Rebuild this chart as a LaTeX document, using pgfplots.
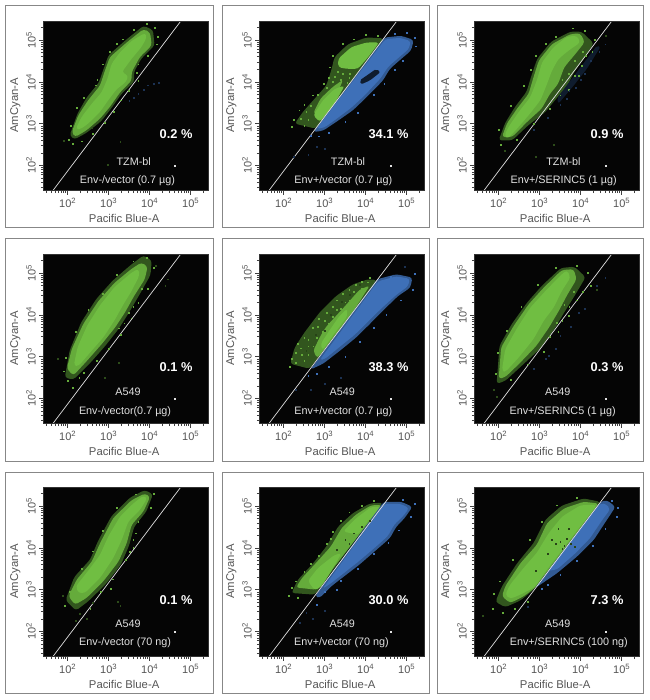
\documentclass[border=0pt]{standalone}
\usepackage{pgfplots}
\usepackage{fontspec}
\setmainfont{Liberation Sans}
\pgfplotsset{compat=1.18}
\definecolor{grn}{RGB}{112,190,66}
\definecolor{blu}{RGB}{62,112,184}
\definecolor{txt}{RGB}{85,85,85}
\definecolor{frm}{RGB}{135,135,135}
\definecolor{lbl}{RGB}{225,225,225}
\tikzset{
 gcore/.style={fill=grn,draw=none,rounded corners=3pt},
 gmid/.style={fill=grn!90!black,draw=none,rounded corners=3pt},
 gout/.style={fill=grn!45!black,draw=none,rounded corners=3pt},
 bcore/.style={fill=blu,draw=none,rounded corners=3pt},
 bmid/.style={fill=blu!80!black,draw=none,rounded corners=3pt},
 bout/.style={fill=blu!25!black,draw=none,rounded corners=2pt},
}
\newcommand\poly[2]{\addplot[#1] coordinates {#2} -- cycle;}
\newcommand\gs[1]{\addplot[only marks,mark=square*,mark size=0.42pt,color=grn!90!black,mark options={draw=none}] coordinates {#1};}
\newcommand\gd[1]{\addplot[only marks,mark=square*,mark size=0.42pt,color=grn!40!black,mark options={draw=none}] coordinates {#1};}
\newcommand\bs[1]{\addplot[only marks,mark=square*,mark size=0.42pt,color=blu,mark options={draw=none}] coordinates {#1};}
\newcommand\bd[1]{\addplot[only marks,mark=square*,mark size=0.42pt,color=blu!45!black,mark options={draw=none}] coordinates {#1};}
\newcommand\ks[1]{\addplot[only marks,mark=square*,mark size=0.42pt,color=grn!35!black,mark options={draw=none}] coordinates {#1};}
\def\minorx{1.48,1.6,1.7,1.78,1.85,1.9,1.95,2.3,2.48,2.6,2.7,2.78,2.85,2.9,2.95,3.3,3.48,3.6,3.7,3.78,3.85,3.9,3.95,4.3,4.48,4.6,4.7,4.78,4.85,4.9,4.95,5.3}
\pgfplotsset{flow/.style={
 scale only axis,width=165pt,height=169pt,
 xmin=1.406,xmax=5.43,ymin=1.397,ymax=5.437,
 axis background/.style={fill=black!98!white},
 axis line style={draw=black!80},
 tick align=outside,xtick pos=bottom,ytick pos=left,
 major tick length=4pt,minor tick length=2.5pt,
 tick style={color=black!75,line width=0.5pt},
 minor tick style={color=black!75,line width=0.4pt},
 xtick={2,3,4,5},ytick={2,3,4,5},
 minor xtick=\minorx,minor ytick=\minorx,
 xticklabels={10\textsuperscript{2},10\textsuperscript{3},10\textsuperscript{4},10\textsuperscript{5}},
 yticklabels={10\textsuperscript{2},10\textsuperscript{3},10\textsuperscript{4},10\textsuperscript{5}},
 tick label style={font=\fontsize{11}{11}\selectfont,text=txt},
 yticklabel style={rotate=90,anchor=south},
 xlabel={Pacific Blue-A},ylabel={AmCyan-A},
 label style={font=\fontsize{11.3}{12}\selectfont,text=txt},
 xlabel style={at={(axis description cs:0.49,-0.166)},anchor=center},
 ylabel style={at={(axis description cs:-0.17,0.505)},anchor=center,rotate=0},
 axis on top,
}}
% #1 left, #2 bottom, #3 cell node x,y, #4 cell, #5 treatment node x,y, #6 treatment, #7 percent, #8 plots
\newcommand\flow[8]{%
\begin{axis}[flow,at={(#1pt,#2pt)},anchor=south west]
#8
\addplot[only marks,mark=square*,mark size=0.5pt,color=lbl,mark options={draw=none}] coordinates {(4.62,1.99)};
\addplot[color=lbl,line width=0.7pt] coordinates {(1.64,1.40)(4.75,5.44)};
\node[anchor=east,text=white,font=\fontsize{12.8}{13}\bfseries\selectfont] at (axis cs:5.13,2.76) {#7};
\node[text=lbl,font=\fontsize{10.8}{11}\selectfont] at (axis cs:#3) {#4};
\node[text=lbl,font=\fontsize{10.8}{11}\selectfont] at (axis cs:#5) {#6};
\end{axis}}
\begin{document}
\begin{tikzpicture}[x=1pt,y=1pt]
\path[use as bounding box,fill=white] (0,0) rectangle (649,700);
\foreach \a/\b in {5.5/213,222/429,437/643}{
 \draw[frm,line width=0.9pt] (\a,472.3) rectangle (\b,694.3);
 \draw[frm,line width=0.9pt] (\a,239) rectangle (\b,462);
 \draw[frm,line width=0.9pt] (\a,7) rectangle (\b,228);
}
% ---- row 1
\flow{43.3}{509.3}{3.61,2.09}{TZM-bl}{3.46,1.64}{Env-/vector (0.7 µg)}{0.2 \%}{
\poly{gout}{(2.05,2.72)(2.24,3.24)(2.46,3.62)(2.76,3.98)(2.88,4.32)(3.00,4.64)(3.42,5.0)(3.85,5.34)(4.08,5.24)(4.12,4.87)(3.80,4.56)(3.62,4.24)(3.62,4.0)(3.32,3.72)(3.06,3.36)(2.82,3.06)(2.46,2.78)(2.16,2.62)}
\poly{gmid}{(2.10,2.80)(2.26,3.20)(2.50,3.56)(2.79,3.91)(2.91,4.27)(3.03,4.59)(3.44,4.94)(3.85,5.26)(4.01,5.18)(4.05,4.87)(3.76,4.59)(3.56,4.23)(3.56,4.03)(3.28,3.75)(3.03,3.40)(2.79,3.12)(2.46,2.84)(2.18,2.68)}
\poly{gcore}{(2.20,2.88)(2.34,3.16)(2.59,3.48)(2.83,3.75)(2.97,4.07)(3.07,4.43)(3.28,4.71)(3.56,4.98)(3.89,5.17)(3.93,5.06)(3.80,4.83)(3.56,4.55)(3.32,4.23)(3.48,4.15)(3.42,3.99)(3.20,3.83)(2.99,3.56)(2.79,3.28)(2.50,3.0)(2.30,2.86)}
\gs{(2.02,2.62)(2.08,2.95)(2.22,3.38)(2.40,3.62)(2.68,3.92)(2.72,4.05)(2.85,4.42)(3.02,4.72)(3.20,4.92)(3.35,5.02)(3.62,5.25)(3.92,5.38)(4.12,5.3)(4.2,5.08)(4.18,4.9)(3.95,4.62)(3.72,4.42)(3.68,4.22)(3.72,4.02)(3.48,3.78)(3.3,3.56)(3.12,3.28)(2.9,3.02)(2.62,2.76)(2.35,2.58)(2.12,2.52)}
\gd{(2.98,2.02)(3.28,2.56)(2.6,2.9)(1.9,2.6)}
\bd{(3.5,3.55)(3.72,3.72)(3.95,3.92)(4.1,3.95)(4.22,3.98)(3.62,3.62)(3.85,3.82)}
}
\flow{259.3}{509.3}{3.57,2.09}{TZM-bl}{3.455,1.64}{Env+/vector (0.7 µg)}{34.1 \%}{
\poly{gout}{(2.78,2.88)(2.27,3.0)(2.47,3.28)(2.76,3.60)(3.04,3.91)(3.16,4.27)(3.24,4.59)(3.57,4.90)(4.02,5.06)(4.44,5.04)}
\poly{gmid}{(2.95,3.2)(2.72,3.25)(2.9,3.6)(3.2,3.88)(3.45,4.05)(3.3,3.7)}
\poly{gcore}{(3.33,4.55)(3.65,4.83)(4.02,4.94)(4.33,4.94)(4.06,4.59)(3.81,4.31)(3.53,4.31)(3.33,4.35)}
\poly{gcore}{(2.88,3.04)(2.72,3.20)(2.96,3.56)(3.24,3.83)(3.49,3.91)(3.24,3.48)}
\poly{bmid}{(2.72,2.80)(4.46,5.06)(4.87,5.10)(5.17,5.0)(5.11,4.75)(4.87,4.55)(4.59,4.31)(4.42,4.03)(4.02,3.63)(3.69,3.32)(3.28,3.04)(2.96,2.83)}
\poly{bcore}{(2.80,2.88)(4.48,5.02)(4.85,5.05)(5.1,4.97)(5.05,4.78)(4.83,4.6)(4.55,4.36)(4.36,4.08)(3.98,3.68)(3.65,3.38)(3.27,3.1)(2.98,2.9)}
\poly{bout}{(3.85,4.03)(4.26,4.31)(4.36,4.23)(4.10,4.03)(3.89,3.94)}
\gs{(2.2,2.92)(2.25,3.1)(2.38,3.32)(2.5,3.45)(2.7,3.68)(2.98,3.96)(3.1,4.1)(3.12,4.35)(3.2,4.62)(3.45,4.92)(3.7,5.02)(4.0,5.12)(4.3,5.1)(3.45,4.2)(3.6,4.1)(2.6,3.1)(2.5,2.95)(3.55,3.98)(3.4,4.05)(3.25,4.12)(3.32,4.25)(3.62,4.2)(2.42,3.12)(2.55,3.28)(2.65,3.42)(2.82,3.7)(3.05,3.85)(3.2,4.0)}
\bs{(5.2,5.05)(5.22,4.85)(5.0,5.18)(4.7,5.15)(4.9,4.5)(4.7,4.28)(4.45,3.95)(4.2,3.7)(3.8,3.26)(3.5,3.05)(3.1,2.78)(2.85,2.7)(2.65,2.72)}
\bd{(2.25,2.2)(2.6,2.25)(2.8,2.45)(3.0,2.4)}
}
\flow{474.3}{509.3}{3.58,2.09}{TZM-bl}{3.585,1.64}{Env+/SERINC5 (1 µg)}{0.9 \%}{
\poly{gout}{(2.0,2.6)(2.16,3.02)(2.4,3.4)(2.68,3.76)(2.8,4.15)(2.94,4.55)(3.28,4.96)(3.75,5.2)(4.02,5.2)(4.32,4.92)(4.05,4.52)(3.85,4.25)(3.66,3.88)(3.44,3.64)(3.14,3.28)(2.72,2.96)(2.33,2.6)}
\poly{gmid}{(2.08,2.68)(2.20,3.0)(2.45,3.36)(2.73,3.71)(2.85,4.11)(2.98,4.51)(3.30,4.90)(3.75,5.14)(3.99,5.16)(4.10,4.95)(3.9,4.7)(3.6,4.35)(3.45,3.95)(3.25,3.71)(3.05,3.36)(2.69,3.04)(2.33,2.68)}
\poly{gcore}{(2.14,2.72)(2.24,2.92)(2.49,3.28)(2.77,3.63)(2.93,4.03)(3.06,4.47)(3.34,4.83)(3.67,5.08)(3.91,5.10)(3.99,4.94)(3.71,4.75)(3.46,4.55)(3.30,4.27)(3.18,3.95)(3.02,3.56)(2.73,3.20)(2.45,2.88)(2.22,2.64)}
\poly{bout}{(3.42,3.60)(3.75,4.03)(4.40,4.87)(4.48,4.83)(4.15,4.31)(3.83,3.91)(3.46,3.48)}
\gs{(2.05,2.5)(2.0,2.85)(2.3,3.42)(2.62,3.9)(2.78,4.28)(2.9,4.62)(3.15,4.92)(3.4,5.08)(3.8,5.28)(4.1,5.22)(4.35,5.0)(4.28,4.72)(4.02,4.38)(3.95,4.15)(3.7,3.82)(3.5,3.68)(3.25,3.35)(2.85,3.0)(2.45,2.62)(4.05,4.72)(3.85,4.5)(3.7,4.2)(3.55,4.05)(3.85,4.15)(4.12,4.62)}
\gd{(2.15,2.35)(4.62,5.1)(3.35,2.5)(2.9,2.2)}
\bd{(3.5,3.45)(3.72,3.78)(3.88,3.85)(4.1,4.2)(4.25,4.5)(4.45,4.72)(4.6,4.9)(3.2,3.15)(2.85,2.85)(3.65,3.6)(4.0,4.05)}
}
% ---- row 2
\flow{43.3}{276.3}{3.47,2.15}{A549}{3.40,1.68}{Env-/vector(0.7 µg)}{0.1 \%}{
\poly{gout}{(1.93,2.5)(2.05,3.15)(2.33,3.82)(2.7,4.38)(3.1,4.82)(3.55,5.2)(3.85,5.42)(4.05,5.3)(4.02,4.95)(3.75,4.48)(3.5,4.06)(3.24,3.66)(2.92,3.26)(2.55,2.85)(2.14,2.45)}
\poly{gmid}{(1.98,2.71)(2.10,3.18)(2.38,3.78)(2.75,4.33)(3.15,4.77)(3.56,5.10)(3.80,5.25)(3.95,5.15)(3.88,4.85)(3.62,4.45)(3.40,4.06)(3.16,3.70)(2.83,3.30)(2.47,2.90)(2.14,2.55)}
\poly{gcore}{(2.15,2.79)(2.24,3.22)(2.48,3.75)(2.79,4.23)(3.15,4.67)(3.56,5.01)(3.73,5.10)(3.75,4.94)(3.56,4.57)(3.36,4.25)(3.15,3.88)(2.87,3.46)(2.54,3.09)(2.26,2.77)}
\gs{(1.9,2.65)(1.95,2.98)(2.0,2.42)(2.12,2.25)(2.2,3.6)(2.5,4.12)(2.85,4.5)(3.2,4.95)(3.6,5.28)(3.92,5.36)(4.1,5.12)(3.95,4.62)(3.72,4.28)(3.55,3.92)(3.3,3.52)(3.0,3.18)(2.7,2.9)(2.4,2.62)(2.28,2.5)(3.8,4.62)(3.6,4.2)(3.38,3.8)(3.48,4.06)(3.24,3.68)}
\gd{(4.38,4.7)(4.45,4.85)(4.15,5.18)(1.76,2.95)(2.9,2.5)(3.25,2.85)}
}
\flow{259.3}{276.3}{3.43,2.15}{A549}{3.455,1.68}{Env+/vector (0.7 µg)}{38.3 \%}{
\poly{gout}{(2.63,2.71)(2.16,2.83)(2.27,3.22)(2.51,3.58)(2.88,4.06)(3.28,4.45)(3.69,4.73)(4.06,4.85)(4.28,4.83)}
\poly{gmid}{(2.82,2.96)(2.72,3.14)(2.9,3.5)(3.04,3.72)(3.49,4.2)(3.85,4.6)(4.1,4.7)(3.72,4.12)(3.24,3.50)}
\poly{gcore}{(2.95,3.15)(2.9,3.3)(3.1,3.6)(3.35,3.96)(3.55,4.15)(3.55,3.96)(3.24,3.56)}
\poly{bmid}{(2.65,2.69)(4.28,4.85)(4.75,4.97)(5.14,4.89)(5.09,4.65)(4.79,4.45)(4.42,4.10)(4.10,3.78)(3.77,3.46)(3.37,3.14)(2.96,2.83)}
\poly{bcore}{(2.88,2.92)(4.3,4.8)(4.75,4.92)(5.08,4.86)(5.03,4.68)(4.75,4.48)(4.38,4.15)(4.06,3.84)(3.73,3.52)(3.35,3.22)(3.0,2.94)}
\gs{(2.15,2.75)(2.2,2.95)(2.3,3.1)(2.35,3.3)(2.5,3.45)(2.6,3.4)(2.7,3.7)(2.85,3.9)(2.95,3.6)(3.05,4.05)(3.2,4.2)(3.3,4.35)(3.45,4.5)(3.6,4.6)(3.75,4.72)(3.9,4.8)(4.1,4.88)(3.4,4.15)(3.6,4.35)(2.6,3.05)(2.5,2.9)(2.42,3.2)(2.72,3.25)(3.0,3.85)(3.2,3.95)(2.9,3.35)(3.75,4.45)(2.3,2.85)(2.45,3.05)(2.6,3.25)(2.8,3.45)(2.82,3.72)(3.1,3.8)(3.3,4.12)(3.5,4.3)(3.7,4.55)(3.9,4.62)(4.05,4.78)}
\ks{(2.55,3.15)(2.78,3.52)(3.0,3.62)(3.15,4.0)(3.42,4.32)(3.62,4.48)(3.85,4.72)}
\bs{(2.6,2.55)(2.8,2.6)(3.1,2.75)(3.5,3.0)(3.85,3.35)(4.2,3.7)(4.5,4.0)(4.85,4.35)(5.15,4.6)(5.2,4.98)(4.62,4.92)}
\bd{(3.0,2.35)(3.4,2.5)(2.3,2.2)(2.65,2.2)(4.95,5.15)}
}
\flow{474.3}{276.3}{3.44,2.15}{A549}{3.56,1.68}{Env+/SERINC5 (1 µg)}{0.3 \%}{
\poly{gout}{(1.95,2.35)(2.02,3.26)(2.32,3.78)(2.7,4.3)(3.06,4.7)(3.52,5.12)(3.85,5.15)(4.12,4.9)(3.85,4.45)(3.6,4.06)(3.36,3.66)(3.02,3.2)(2.56,2.78)(2.16,2.42)}
\poly{gmid}{(2.00,2.47)(2.06,3.22)(2.37,3.74)(2.73,4.25)(3.10,4.65)(3.54,5.07)(3.83,5.09)(3.90,4.85)(3.68,4.49)(3.47,4.10)(3.23,3.70)(2.92,3.26)(2.50,2.83)(2.16,2.51)}
\poly{gcore}{(2.08,2.67)(2.16,3.18)(2.46,3.70)(2.77,4.17)(3.14,4.57)(3.54,4.97)(3.67,5.07)(3.75,4.89)(3.54,4.57)(3.34,4.17)(3.10,3.86)(2.85,3.42)(2.49,2.98)(2.16,2.63)}
\gs{(1.92,2.6)(1.98,3.1)(2.2,3.62)(2.55,4.2)(2.95,4.72)(3.4,5.12)(3.9,5.18)(4.18,5.0)(4.25,4.7)(4.05,4.55)(3.9,4.35)(3.7,3.98)(3.45,3.6)(3.1,3.12)(2.7,2.82)(2.3,2.45)(3.72,4.2)(3.55,3.86)(3.6,4.25)(3.82,4.55)(3.42,3.82)(3.25,3.48)}
\gd{(1.88,2.2)(1.95,2.05)(4.4,4.6)}
\bd{(3.5,3.5)(3.22,3.02)(3.4,3.18)(3.75,3.72)(3.95,4.05)(4.1,4.15)(4.4,4.7)(4.6,4.88)(3.15,2.95)(2.85,2.72)}
}
% ---- row 3
\flow{43.3}{43.3}{3.47,2.19}{A549}{3.40,1.72}{Env-/vector (70 ng)}{0.1 \%}{
\poly{gout}{(1.95,2.75)(2.16,3.3)(2.55,3.72)(2.74,4.16)(3.07,4.76)(3.52,5.2)(3.88,5.38)(4.08,5.28)(3.92,4.87)(3.62,4.5)(3.5,4.06)(3.3,3.6)(2.92,3.12)(2.5,2.72)(2.2,2.5)}
\poly{gmid}{(2.02,2.84)(2.22,3.24)(2.59,3.67)(2.79,4.11)(3.11,4.71)(3.56,5.14)(3.89,5.30)(4.01,5.22)(3.85,4.87)(3.56,4.55)(3.44,4.11)(3.24,3.67)(2.87,3.20)(2.46,2.80)(2.18,2.64)}
\poly{gcore}{(2.20,3.08)(2.46,3.40)(2.79,3.83)(2.99,4.27)(3.28,4.75)(3.60,5.06)(3.85,5.25)(3.94,5.18)(3.76,4.90)(3.48,4.63)(3.32,4.19)(3.11,3.75)(2.79,3.28)(2.42,2.92)(2.26,2.92)}
\gs{(1.92,2.62)(2.05,2.95)(2.35,3.5)(2.62,3.92)(2.85,4.4)(3.2,4.95)(3.65,5.28)(4.1,5.3)(4.02,4.95)(3.72,4.62)(3.6,4.2)(3.42,3.72)(3.1,3.25)(2.8,2.95)(2.55,2.55)(3.6,4.0)(3.05,3.02)(3.52,3.9)(3.66,4.35)}
\gd{(1.88,2.85)(2.3,2.42)(2.62,2.68)(2.46,2.3)(2.2,2.25)(3.22,2.72)(3.28,2.62)}
}
\flow{259.3}{43.3}{3.43,2.19}{A549}{3.41,1.72}{Env+/vector (70 ng)}{30.0 \%}{
\poly{gout}{(2.76,2.88)(2.19,2.92)(2.35,3.24)(2.72,3.63)(3.04,4.03)(3.33,4.51)(3.69,4.83)(4.10,5.06)(4.42,5.08)}
\poly{gmid}{(2.8,3.0)(2.3,3.05)(2.45,3.28)(2.8,3.65)(3.15,4.03)(3.42,4.48)(3.77,4.8)(4.14,5.02)(4.4,5.02)}
\poly{gcore}{(2.76,2.98)(2.59,3.21)(2.84,3.52)(3.24,3.83)(3.41,3.87)(3.16,3.44)(2.92,3.08)}
\poly{gcore}{(3.45,4.39)(3.77,4.71)(4.14,4.98)(4.36,4.98)(4.02,4.59)(3.81,4.31)}
\poly{bmid}{(2.76,2.84)(4.44,5.10)(4.87,5.10)(5.14,4.98)(4.95,4.71)(4.75,4.51)(4.59,4.23)(4.26,3.95)(3.85,3.60)(3.53,3.36)(3.16,3.08)(2.88,2.80)}
\poly{bcore}{(2.95,3.02)(4.46,5.05)(4.85,5.05)(5.06,4.95)(4.9,4.74)(4.7,4.56)(4.54,4.28)(4.22,4.0)(3.81,3.66)(3.5,3.42)(3.15,3.15)}
\gs{(2.12,2.85)(2.2,3.05)(2.3,3.2)(2.5,3.42)(2.65,3.62)(2.85,3.82)(3.05,4.1)(3.2,4.38)(3.4,4.65)(3.6,4.85)(3.9,5.0)(4.2,5.12)(2.35,2.8)(3.15,4.22)(3.5,4.5)(3.3,4.12)}
\ks{(3.3,3.95)(3.5,4.2)(3.7,4.35)(3.6,4.1)(3.9,4.5)(4.1,4.65)}
\bs{(5.2,5.05)(5.1,4.75)(4.8,4.42)(4.55,4.12)(4.2,3.85)(3.8,3.5)(3.4,3.22)(3.0,2.95)(2.8,2.65)(4.9,5.15)(3.3,3.0)}
\bd{(2.55,2.45)(2.7,2.3)(3.0,2.5)(2.4,2.2)}
}
\flow{474.3}{43.3}{3.44,2.19}{A549}{3.71,1.72}{Env+/SERINC5 (100 ng)}{7.3 \%}{
\poly{gout}{(1.92,2.71)(2.08,3.08)(2.45,3.63)(2.85,4.11)(3.14,4.67)(3.54,5.01)(4.07,5.18)(4.48,5.10)(2.83,2.98)(2.53,2.74)(2.16,2.58)}
\poly{gmid}{(2.08,2.84)(2.16,3.08)(2.53,3.63)(2.93,4.07)(3.18,4.59)(3.59,4.94)(4.07,5.10)(4.44,5.06)(2.88,3.04)(2.61,2.84)(2.28,2.68)}
\poly{gcore}{(2.16,2.88)(2.28,3.12)(2.61,3.52)(2.93,3.88)(3.22,4.35)(3.55,4.75)(4.0,5.02)(4.4,5.02)(3.83,4.31)(3.18,3.48)(2.88,3.06)(2.53,2.88)(2.28,2.78)}
\poly{bmid}{(2.89,3.04)(4.48,5.10)(4.64,5.14)(4.85,4.98)(4.64,4.67)(4.32,4.19)(3.91,3.79)(3.42,3.39)(3.06,3.15)}
\poly{bcore}{(3.2,3.45)(4.48,5.06)(4.62,5.05)(4.72,4.92)(4.55,4.7)(4.22,4.22)(3.85,3.85)(3.42,3.48)}
\ks{(3.3,4.2)(3.4,4.1)(3.5,4.15)(3.6,4.05)(3.75,4.1)(3.85,4.02)(3.55,3.98)(3.65,4.22)(3.2,3.85)(2.9,3.45)(3.7,4.45)(3.45,4.45)}
\gs{(1.85,2.55)(1.88,2.9)(2.02,3.2)(2.35,3.72)(2.75,4.2)(3.05,4.62)(3.42,5.02)(3.9,5.2)(2.1,2.45)(2.4,2.55)(2.7,2.72)}
\gd{(1.62,2.38)}
\bs{(4.9,4.95)(4.88,4.75)(4.6,4.45)(4.3,4.05)(3.9,3.7)(3.5,3.35)(3.05,3.02)(3.2,3.12)(4.75,5.12)}
\bd{(2.7,2.6)}
}
\end{tikzpicture}
\end{document}
